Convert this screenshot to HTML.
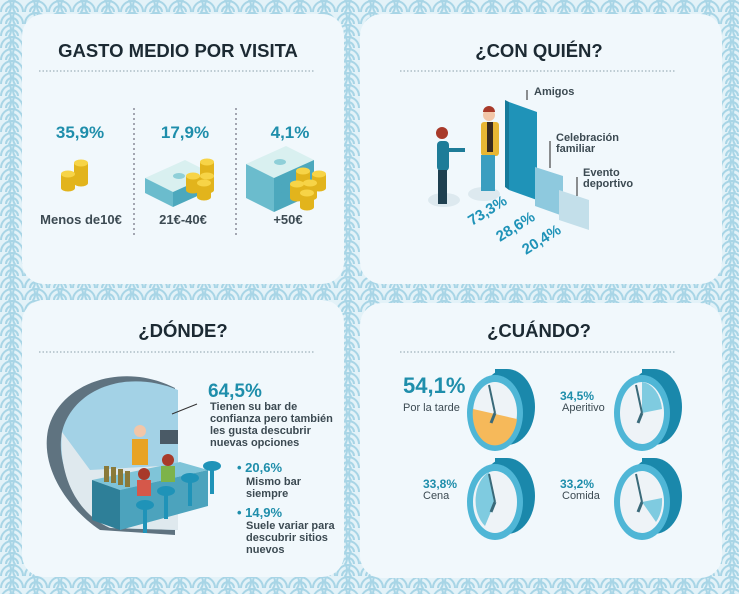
<!DOCTYPE html>
<html><head><meta charset="utf-8"><style>
html,body{margin:0;padding:0;background:#e6f3f8}
svg{display:block}
text{font-family:"Liberation Sans",sans-serif}
</style></head><body>
<svg width="739" height="594" viewBox="0 0 739 594" xmlns="http://www.w3.org/2000/svg">
<defs>
<pattern id="sg" width="24" height="12" patternUnits="userSpaceOnUse">
<rect width="24" height="12" fill="#e3f2f8"/>
<g fill="none" stroke="#a8d5e6" stroke-width="2">
<circle cx="12" cy="12" r="11"/><circle cx="12" cy="12" r="6"/>
<circle cx="0" cy="6" r="11"/><circle cx="24" cy="6" r="11"/>
</g>
</pattern>
<g id="coin"><rect x="-7" y="-14" width="14" height="14" fill="#e2b41c"/><ellipse cx="0" cy="0" rx="7" ry="3.5" fill="#e2b41c"/><ellipse cx="0" cy="-14" rx="7" ry="3.5" fill="#f7d447"/></g>
<g id="cash"><path d="M0 0 L40 -18 L68 -4 L28 14 Z" fill="#d9f0f0"/><path d="M0 0 L28 14 L28 24 L0 10 Z" fill="#6bbccd"/><path d="M28 14 L68 -4 L68 6 L28 24 Z" fill="#4ca8bd"/><ellipse cx="34" cy="-2" rx="6" ry="3" fill="#8fcfd8"/></g>
</defs>
<rect width="739" height="594" fill="url(#sg)"/>
<rect x="22" y="14" width="322" height="270" rx="22" fill="#f1f8fc"/>
<rect x="360" y="14" width="362" height="270" rx="22" fill="#f1f8fc"/>
<rect x="22" y="300" width="322" height="277" rx="22" fill="#f1f8fc"/>
<rect x="360" y="303" width="362" height="275" rx="22" fill="#f1f8fc"/>

<!-- Panel 1 -->
<text x="178" y="57" text-anchor="middle" font-size="18.5" font-weight="bold" fill="#1c2a33">GASTO MEDIO POR VISITA</text>
<line x1="39" y1="71" x2="314" y2="71" stroke="#8aa0aa" stroke-dasharray="1.5 2"/>
<line x1="134" y1="108" x2="134" y2="238" stroke="#556" stroke-dasharray="2 3"/>
<line x1="236" y1="108" x2="236" y2="238" stroke="#556" stroke-dasharray="2 3"/>
<g font-size="17" font-weight="bold" fill="#1f8eab" text-anchor="middle">
<text x="80" y="138">35,9%</text><text x="185" y="138">17,9%</text><text x="290" y="138">4,1%</text></g>
<use href="#coin" x="81" y="183"/><use href="#coin" x="81" y="177"/><use href="#coin" x="68" y="188"/>
<use href="#cash" x="145" y="183"/><use href="#cash" x="145" y="178"/>
<use href="#coin" x="207" y="176"/><use href="#coin" x="207" y="190"/><use href="#coin" x="193" y="190"/><use href="#coin" x="204" y="197"/>
<use href="#cash" x="246" y="188"/><use href="#cash" x="246" y="180"/><use href="#cash" x="246" y="172"/><use href="#cash" x="246" y="164"/>
<use href="#coin" x="303" y="185"/><use href="#coin" x="319" y="188"/><use href="#coin" x="310" y="197"/><use href="#coin" x="297" y="198"/><use href="#coin" x="307" y="207"/>
<g font-size="13" font-weight="bold" fill="#3c4a52" text-anchor="middle">
<text x="81" y="224">Menos de10€</text><text x="183" y="224">21€-40€</text><text x="288" y="224">+50€</text></g>

<!-- Panel 2 -->
<text x="539" y="57" text-anchor="middle" font-size="18.5" font-weight="bold" fill="#1c2a33">¿CON QUIÉN?</text>
<line x1="400" y1="71" x2="676" y2="71" stroke="#8aa0aa" stroke-dasharray="1.5 2"/>
<ellipse cx="444" cy="200" rx="16" ry="7" fill="#dde9ef"/><ellipse cx="484" cy="194" rx="16" ry="7" fill="#dde9ef"/>
<circle cx="442" cy="133" r="6" fill="#a83a2a"/><rect x="437" y="141" width="12" height="30" rx="4" fill="#1e7c98"/><rect x="438" y="170" width="9" height="34" fill="#1f4050"/><rect x="447" y="148" width="18" height="4" fill="#1e7c98"/>
<circle cx="489" cy="115" r="6" fill="#f2c6a8"/><path d="M483 112 a6 6 0 0 1 12 0z" fill="#a83a2a"/><rect x="481" y="122" width="18" height="34" rx="3" fill="#e8b634"/><rect x="487" y="122" width="6" height="30" fill="#3a2a20"/><rect x="481" y="155" width="14" height="36" fill="#3a9ec0"/>
<path d="M509 102 L537 112 L537 200 L509 190 Z" fill="#1f93b8"/><path d="M509 102 L505 100 L505 187 L509 190Z" fill="#157a9a"/>
<path d="M535 167 L563 176 L563 216 L535 206 Z" fill="#8ec9de"/>
<path d="M559 190 L589 200 L589 230 L559 220 Z" fill="#c3dfea"/>
<path d="M527 100 v-10 M550 168 v-27 M577 196 v-19" stroke="#222" stroke-width="1"/>
<g font-size="11" font-weight="bold" fill="#3c4a52"><text x="534" y="95">Amigos</text><text x="556" y="141">Celebración</text><text x="556" y="152">familiar</text><text x="583" y="176">Evento</text><text x="583" y="187">deportivo</text></g>
<g font-size="15" font-weight="bold" fill="#1f93b8">
<text transform="translate(472,226) rotate(-32)">73,3%</text>
<text transform="translate(500,242) rotate(-32)">28,6%</text>
<text transform="translate(526,255) rotate(-32)">20,4%</text></g>

<!-- Panel 3 -->
<text x="183" y="337" text-anchor="middle" font-size="18.5" font-weight="bold" fill="#1c2a33">¿DÓNDE?</text>
<line x1="39" y1="352" x2="314" y2="352" stroke="#8aa0aa" stroke-dasharray="1.5 2"/>
<path d="M175 388 L175 535 L100 530 C70 510 40 470 48 430 C58 385 120 360 175 388Z" fill="#5f7380"/>
<path d="M178 390 L178 530 L110 528 C80 505 55 470 62 432 C72 390 125 368 178 390Z" fill="#a3d2e6"/>
<path d="M62 432 C58 480 80 515 110 528 L178 530 L178 465 L90 470Z" fill="#dfe9ee"/>
<line x1="172" y1="414" x2="197" y2="404" stroke="#333"/>
<path d="M92 480 L180 462 L208 470 L120 490Z" fill="#7fc4d8"/><path d="M92 480 L120 490 L120 530 L92 520Z" fill="#2e7f98"/><path d="M120 490 L208 470 L208 506 L120 530Z" fill="#4ca3bd"/>
<g fill="#8a7a3a"><rect x="104" y="466" width="5" height="16"/><rect x="111" y="467" width="5" height="16"/><rect x="118" y="469" width="5" height="16"/><rect x="125" y="471" width="5" height="16"/></g>
<circle cx="140" cy="431" r="6" fill="#f2c6a8"/><rect x="132" y="439" width="16" height="26" fill="#e8a324"/>
<rect x="160" y="430" width="18" height="14" fill="#4a5a66"/>
<circle cx="144" cy="474" r="6" fill="#a83a2a"/><rect x="137" y="480" width="14" height="16" fill="#d5584a"/>
<circle cx="168" cy="460" r="6" fill="#a83a2a"/><rect x="161" y="466" width="14" height="16" fill="#7db34a"/>
<g fill="#1f93b8"><ellipse cx="145" cy="505" rx="9" ry="5"/><ellipse cx="166" cy="491" rx="9" ry="5"/><ellipse cx="190" cy="478" rx="9" ry="5"/><ellipse cx="212" cy="466" rx="9" ry="5"/>
<rect x="143" y="505" width="4" height="28"/><rect x="164" y="491" width="4" height="28"/><rect x="188" y="478" width="4" height="28"/><rect x="210" y="466" width="4" height="28"/></g>
<text x="208" y="397" font-size="19" font-weight="bold" fill="#1f8eab">64,5%</text>
<g font-size="11" font-weight="bold" fill="#3c4a52"><text x="210" y="410">Tienen su bar de</text><text x="210" y="422">confianza pero también</text><text x="210" y="434">les gusta descubrir</text><text x="210" y="446">nuevas opciones</text>
<text x="246" y="485">Mismo bar</text><text x="246" y="497">siempre</text>
<text x="246" y="529">Suele variar para</text><text x="246" y="541">descubrir sitios</text><text x="246" y="553">nuevos</text></g>
<g font-size="13" font-weight="bold" fill="#1f8eab"><text x="237" y="472">• 20,6%</text><text x="237" y="517">• 14,9%</text></g>

<!-- Panel 4 -->
<text x="539" y="337" text-anchor="middle" font-size="18.5" font-weight="bold" fill="#1c2a33">¿CUÁNDO?</text>
<line x1="400" y1="352" x2="676" y2="352" stroke="#8aa0aa" stroke-dasharray="1.5 2"/>
<g transform="translate(495,413)">
<ellipse cx="12" cy="-6" rx="28" ry="38" fill="#1a88ab"/><rect x="0" y="-44" width="12" height="76" fill="#1a88ab"/>
<ellipse cx="0" cy="0" rx="28" ry="38" fill="#4fb6d6"/><ellipse cx="0" cy="0" rx="22" ry="31" fill="#eef3f7"/>
<path d="M-22 -4 L22 6 A22 31 0 0 1 -22 -4Z" fill="#f6b95a"/>
<line x1="0" y1="0" x2="-6" y2="-28" stroke="#3a6a7a" stroke-width="2"/><line x1="0" y1="0" x2="-4" y2="10" stroke="#3a6a7a" stroke-width="3"/></g>
<text x="403" y="393" font-size="22" font-weight="bold" fill="#1f8eab">54,1%</text>
<text x="403" y="411" font-size="11" fill="#3c4a52">Por la tarde</text>
<g transform="translate(642,413)">
<ellipse cx="12" cy="-6" rx="28" ry="38" fill="#1a88ab"/><rect x="0" y="-44" width="12" height="76" fill="#1a88ab"/>
<ellipse cx="0" cy="0" rx="28" ry="38" fill="#4fb6d6"/><ellipse cx="0" cy="0" rx="22" ry="31" fill="#eef3f7"/>
<path d="M0 0 L0 -31 A22 31 0 0 1 20 -4Z" fill="#7fcbe0"/>
<line x1="0" y1="0" x2="-6" y2="-28" stroke="#3a6a7a" stroke-width="2"/><line x1="0" y1="0" x2="-4" y2="10" stroke="#3a6a7a" stroke-width="3"/></g>
<text x="560" y="400" font-size="12" font-weight="bold" fill="#1f8eab">34,5%</text>
<text x="562" y="411" font-size="11" fill="#3c4a52">Aperitivo</text>
<g transform="translate(495,502)">
<ellipse cx="12" cy="-6" rx="28" ry="38" fill="#1a88ab"/><rect x="0" y="-44" width="12" height="76" fill="#1a88ab"/>
<ellipse cx="0" cy="0" rx="28" ry="38" fill="#4fb6d6"/><ellipse cx="0" cy="0" rx="22" ry="31" fill="#eef3f7"/>
<path d="M0 0 L-6 -30 A22 31 0 0 0 -10 24Z" fill="#7fcbe0"/>
<line x1="0" y1="0" x2="-6" y2="-28" stroke="#3a6a7a" stroke-width="2"/><line x1="0" y1="0" x2="-4" y2="10" stroke="#3a6a7a" stroke-width="3"/></g>
<text x="423" y="488" font-size="12" font-weight="bold" fill="#1f8eab">33,8%</text>
<text x="423" y="499" font-size="11" fill="#3c4a52">Cena</text>
<g transform="translate(642,502)">
<ellipse cx="12" cy="-6" rx="28" ry="38" fill="#1a88ab"/><rect x="0" y="-44" width="12" height="76" fill="#1a88ab"/>
<ellipse cx="0" cy="0" rx="28" ry="38" fill="#4fb6d6"/><ellipse cx="0" cy="0" rx="22" ry="31" fill="#eef3f7"/>
<path d="M0 0 L20 -4 A22 31 0 0 1 14 20Z" fill="#7fcbe0"/>
<line x1="0" y1="0" x2="-6" y2="-28" stroke="#3a6a7a" stroke-width="2"/><line x1="0" y1="0" x2="-4" y2="10" stroke="#3a6a7a" stroke-width="3"/></g>
<text x="560" y="488" font-size="12" font-weight="bold" fill="#1f8eab">33,2%</text>
<text x="562" y="499" font-size="11" fill="#3c4a52">Comida</text>
</svg>
</body></html>
